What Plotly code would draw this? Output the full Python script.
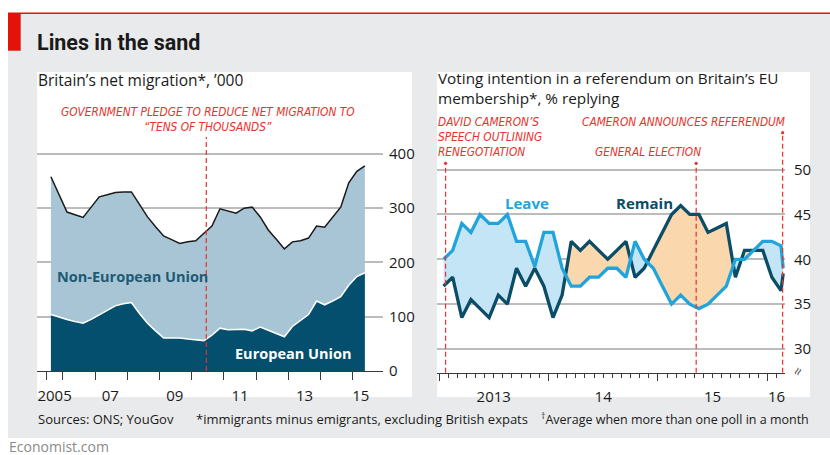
import plotly.graph_objects as go
import pandas as pd

# ---------------- DATA ----------------
# Britain's net migration, '000 (quarterly, rolling year)
MIG_START = "2005-08"
MIG_TOTAL = [358, 325, 293, 288, 283, 302, 321, 325, 329, 330,
             330, 307, 284, 266, 249, 242, 235, 238, 240, 254,
             267, 299, 295, 291, 300, 302, 284, 260, 243, 225,
             238, 240, 245, 267, 265, 284, 302, 347, 368, 378]
MIG_EU = [104, 99, 95, 91, 88, 95, 103, 112, 120, 124,
          126, 106, 88, 74, 61, 61, 61, 59, 57, 56,
          66, 79, 76, 77, 77, 74, 81, 75, 69, 63,
          82, 93, 104, 129, 122, 129, 137, 158, 174, 181]
MIG_TICK_LABELS = ["2005", "07", "09", "11", "13", "15"]
MIG_Y_TICKS = [0, 100, 200, 300, 400]
PLEDGE_DATE = 2010.45

# Referendum voting intention, % (monthly, YouGov)
POLL_START = "2013-01"
POLL_LEAVE = [40, 41, 44, 43, 45, 44, 44, 45, 42, 42,
              39.2, 43, 43, 39, 37, 37, 38, 38, 39, 39,
              38, 42, 40, 39, 37, 35, 36, 35, 34.5, 35,
              36, 37, 40, 40, 41, 42, 42, 41.5]
POLL_REMAIN = [37, 38, 33.5, 35.5, 34.5, 33.5, 36, 35, 39, 37,
               39, 37, 33.5, 36, 42, 41, 42, 41, 40, 41,
               42, 38, 39, 41, 43, 45, 46, 45, 45, 43,
               43.5, 44, 38, 41, 41, 41, 38, 36.5]
POLL_LAST = {"date": 2016.145, "leave": 39, "remain": 38.4}
POLL_TICK_LABELS = ["2013", "14", "15", "16"]
POLL_Y_TICKS = [30, 35, 40, 45, 50]
EVENTS = [2013.06, 2015.35, 2016.14]

# ---------------- helpers ----------------
W, H = 830, 455
def PX(x): return x / W
def PY(y): return 1 - y / H

def dec_year(ym, n, step):
    y, m = map(int, ym.split("-"))
    out = []
    for k in range(n):
        mm = (m - 1) + k * step
        out.append(y + mm // 12 + ((mm % 12) + 0.5) / 12)
    return out

mig_x = dec_year(MIG_START, len(MIG_TOTAL), 3)
poll_x = dec_year(POLL_START, len(POLL_LEAVE), 1) + [POLL_LAST["date"]]
leave = POLL_LEAVE + [POLL_LAST["leave"]]
remain = POLL_REMAIN + [POLL_LAST["remain"]]

FONT = "Open Sans, Noto Sans, sans-serif"
TITLE_FONT = "Roboto, Open Sans, sans-serif"
NARROW = "Liberation Sans Narrow, DejaVu Sans Condensed, sans-serif"
RED = "#e8322a"
GRID = "#bcbcbc"
AXIS = "#3a3a3a"

C_NONEU = "#a8c5d5"
C_EU = "#034f6d"
C_LEAVE = "#21a4dc"
C_REMAIN = "#0b4c66"
F_LEAVE = "#c4e5f6"
F_REMAIN = "#fbd7ae"

fig = go.Figure()

# ---- left chart: stacked areas ----
fig.add_trace(go.Scatter(x=mig_x, y=MIG_EU, mode="lines", fill="tozeroy",
                         fillcolor=C_EU, line=dict(color="white", width=1.5),
                         xaxis="x", yaxis="y", hoverinfo="skip", showlegend=False))
fig.add_trace(go.Scatter(x=mig_x, y=MIG_TOTAL, mode="lines", fill="tonexty",
                         fillcolor=C_NONEU, line=dict(color="#1a1a1a", width=1.5),
                         xaxis="x", yaxis="y", hoverinfo="skip", showlegend=False))

# ---- right chart: fills between lines ----
def refine(x, a, b):
    xs, As, Bs = [x[0]], [a[0]], [b[0]]
    for i in range(len(x) - 1):
        d0 = a[i] - b[i]
        d1 = a[i + 1] - b[i + 1]
        if d0 * d1 < 0:
            t = d0 / (d0 - d1)
            xc = x[i] + t * (x[i + 1] - x[i])
            yc = a[i] + t * (a[i + 1] - a[i])
            xs.append(xc); As.append(yc); Bs.append(yc)
        xs.append(x[i + 1]); As.append(a[i + 1]); Bs.append(b[i + 1])
    return xs, As, Bs

def fill_polys(x, a, b):
    xs, As, Bs = refine(x, a, b)
    runs = []
    cur, cur_s = [0], None
    for j in range(len(xs) - 1):
        d = (As[j] + As[j + 1]) / 2 - (Bs[j] + Bs[j + 1]) / 2
        s = 1 if d > 0 else (-1 if d < 0 else 0)
        if cur_s in (None, 0):
            cur_s = s
        elif s != 0 and s != cur_s:
            runs.append((cur_s, cur))
            cur, cur_s = [j], s
        cur.append(j + 1)
    runs.append((cur_s, cur))
    pa = ([], [])
    pb = ([], [])
    for s, idx in runs:
        px_ = [xs[k] for k in idx] + [xs[k] for k in reversed(idx)]
        py_ = [As[k] for k in idx] + [Bs[k] for k in reversed(idx)]
        tgt = pa if s > 0 else pb
        tgt[0].extend(px_ + [None]); tgt[1].extend(py_ + [None])
    return pa, pb

pa, pb = fill_polys(poll_x, leave, remain)
fig.add_trace(go.Scatter(x=pa[0], y=pa[1], mode="lines", fill="toself",
                         fillcolor=F_LEAVE, line=dict(width=0), xaxis="x2", yaxis="y2",
                         hoverinfo="skip", showlegend=False))
fig.add_trace(go.Scatter(x=pb[0], y=pb[1], mode="lines", fill="toself",
                         fillcolor=F_REMAIN, line=dict(width=0), xaxis="x2", yaxis="y2",
                         hoverinfo="skip", showlegend=False))
fig.add_trace(go.Scatter(x=poll_x, y=remain, mode="lines",
                         line=dict(color=C_REMAIN, width=3.3), xaxis="x2", yaxis="y2",
                         hoverinfo="skip", showlegend=False))
fig.add_trace(go.Scatter(x=poll_x, y=leave, mode="lines",
                         line=dict(color=C_LEAVE, width=3.3), xaxis="x2", yaxis="y2",
                         hoverinfo="skip", showlegend=False))
# dummy for overlay axis (year ticks)
fig.add_trace(go.Scatter(x=[2014], y=[None], mode="markers", xaxis="x3", yaxis="y2",
                         hoverinfo="skip", showlegend=False))

# ---- event markers ----
y_top_px = [163.3, 163.3, 132.7]
for ev, ytp in zip(EVENTS, y_top_px):
    fig.add_shape(type="line", xref="x2", yref="paper", x0=ev, x1=ev,
                  y0=PY(372.7), y1=PY(ytp), line=dict(color=RED, width=1.2, dash="5px,3px"))
    fig.add_shape(type="circle", xref="x2", yref="paper", xsizemode="pixel", ysizemode="pixel",
                  xanchor=ev, yanchor=PY(ytp), x0=-1.6, x1=1.6, y0=-1.6, y1=1.6,
                  fillcolor=RED, line=dict(width=0))
fig.add_shape(type="line", xref="x", yref="paper", x0=PLEDGE_DATE, x1=PLEDGE_DATE,
              y0=PY(371), y1=PY(137), line=dict(color=RED, width=1.2, dash="5px,3px"))

# ---- background panels ----
bg = [
    dict(type="rect", xref="paper", yref="paper", x0=PX(8), x1=1, y0=PY(438), y1=PY(13),
         fillcolor="#e9eaec", line=dict(width=0), layer="below"),
    dict(type="rect", xref="paper", yref="paper", x0=PX(37), x1=PX(412), y0=PY(397), y1=PY(72),
         fillcolor="white", line=dict(width=0), layer="below"),
    dict(type="rect", xref="paper", yref="paper", x0=PX(437), x1=PX(810), y0=PY(397), y1=PY(72),
         fillcolor="white", line=dict(width=0), layer="below"),
    dict(type="rect", xref="paper", yref="paper", x0=PX(8), x1=1, y0=PY(14), y1=PY(12.5),
         fillcolor="#e3120b", line=dict(width=0), layer="below"),
    dict(type="rect", xref="paper", yref="paper", x0=PX(8), x1=PX(20.7), y0=PY(50.7), y1=PY(13),
         fillcolor="#e3120b", line=dict(width=0), layer="below"),
]
for s in bg:
    fig.add_shape(**s)

# ---- axes ----
mig_label_pos = [2005.74, 2007.47, 2009.47, 2011.5, 2013.5, 2015.25]
mig_minor = [2005.5] + list(range(2006, 2016))
poll_label_pos = [2013.5, 2014.5, 2015.5, 2016.085]
poll_minor = [2013 + m / 12 for m in range(0, 38)]

fig.update_layout(
    width=W, height=H, autosize=False,
    margin=dict(l=0, r=0, t=0, b=0, pad=0, autoexpand=False),
    paper_bgcolor="white", plot_bgcolor="rgba(0,0,0,0)",
    font=dict(family=FONT, size=14, color="#1a1a1a"),
    xaxis=dict(domain=[PX(37), PX(383)], range=[2005.193, 2015.938], anchor="y",
               tickmode="array", tickvals=mig_label_pos, ticktext=MIG_TICK_LABELS, ticks="",
               minor=dict(tickmode="array", tickvals=mig_minor, ticks="outside", ticklen=8,
                          tickcolor=AXIS, tickwidth=1.3, showgrid=False),
               showgrid=False, zeroline=False, showline=True, linecolor=AXIS, linewidth=1.4,
               tickfont=dict(size=15), ticklabelstandoff=11, automargin=False),
    yaxis=dict(domain=[PY(371), PY(140.4)], range=[0, 425], anchor="x", side="right",
               tickmode="array", tickvals=MIG_Y_TICKS, ticks="", showgrid=True,
               gridcolor=GRID, gridwidth=1.5, zeroline=False, showline=False,
               tickfont=dict(size=15), ticklabelstandoff=5, automargin=False),
    xaxis2=dict(domain=[PX(437), PX(785)], range=[2012.9817, 2016.1616], anchor="y2",
                tickmode="array", tickvals=poll_label_pos, ticktext=POLL_TICK_LABELS, ticks="",
                minor=dict(tickmode="array", tickvals=poll_minor, ticks="outside", ticklen=4,
                           tickcolor=AXIS, tickwidth=1.2, showgrid=False),
                showgrid=False, zeroline=False, showline=True, linecolor=AXIS, linewidth=1.4,
                tickfont=dict(size=15), ticklabelstandoff=10, automargin=False),
    xaxis3=dict(overlaying="x2", range=[2012.9817, 2016.1616], anchor="y2",
                tickmode="array", tickvals=[2013, 2014, 2015, 2016], ticks="outside", ticklen=7,
                tickcolor=AXIS, tickwidth=1.3, showticklabels=False, showgrid=False,
                zeroline=False, showline=False, automargin=False),
    yaxis2=dict(domain=[PY(372.7), PY(151.7)], range=[27.35, 52], anchor="x2", side="right",
                tickmode="array", tickvals=POLL_Y_TICKS, ticks="", showgrid=True,
                gridcolor=GRID, gridwidth=1.5, zeroline=False, showline=False,
                tickfont=dict(size=15), ticklabelstandoff=8, automargin=False),
)

# ---- text ----
def ann(text, x, y, xanchor="left", size=14, color="#1a1a1a", family=FONT, yanchor="middle",
        angle=0):
    fig.add_annotation(text=text, x=PX(x), y=PY(y), xref="paper", yref="paper",
                       xanchor=xanchor, yanchor=yanchor, showarrow=False, textangle=angle,
                       align="left", font=dict(size=size, color=color, family=family),
                       borderpad=0)

ann("<b>Lines in the sand</b>", 36, 42, size=21.5, family=TITLE_FONT)
ann("Britain’s net migration*, ’000", 37, 80, size=15.5)
ann("Voting intention in a referendum on Britain’s EU<br>membership*, % replying",
    437, 88.5, size=15.3)

NS = 11.8
ann("<i>GOVERNMENT PLEDGE TO REDUCE NET MIGRATION TO</i>", 208, 112, xanchor="center",
    size=NS, color=RED, family=NARROW)
ann("<i>“TENS OF THOUSANDS”</i>", 208, 127, xanchor="center", size=NS, color=RED, family=NARROW)
ann("<i>DAVID CAMERON’S</i>", 437, 122, size=NS, color=RED, family=NARROW)
ann("<i>SPEECH OUTLINING</i>", 437, 137, size=NS, color=RED, family=NARROW)
ann("<i>RENEGOTIATION</i>", 437, 152, size=NS, color=RED, family=NARROW)
ann("<i>CAMERON ANNOUNCES REFERENDUM</i>", 786, 122, xanchor="right", size=NS, color=RED, family=NARROW)
ann("<i>GENERAL ELECTION</i>", 702, 152, xanchor="right", size=NS, color=RED, family=NARROW)

ann("<b>Leave</b>", 527, 203, xanchor="center", size=15, color=C_LEAVE)
ann("<b>Remain</b>", 644, 203, xanchor="center", size=15, color=C_REMAIN)
ann("<b>Non-European Union</b>", 56, 276, size=14.5, color="#1d5a73")
ann("<b>European Union</b>", 234, 353, size=14.5, color="white")

ann("≈", 797, 371, xanchor="center", size=14, color="#444", angle=-65)

ann("Sources: ONS; YouGov", 37, 419, size=13)
ann("*immigrants minus emigrants, excluding British expats", 195, 419, size=13)
ann("<sup>†</sup>Average when more than one poll in a month", 810, 419, xanchor="right", size=12.5)
ann("Economist.com", 8, 446, size=14, color="#8a8a8a")

fig.write_html("out.html", config={"displayModeBar": False},
               post_script="document.body.style.margin='0px';")
